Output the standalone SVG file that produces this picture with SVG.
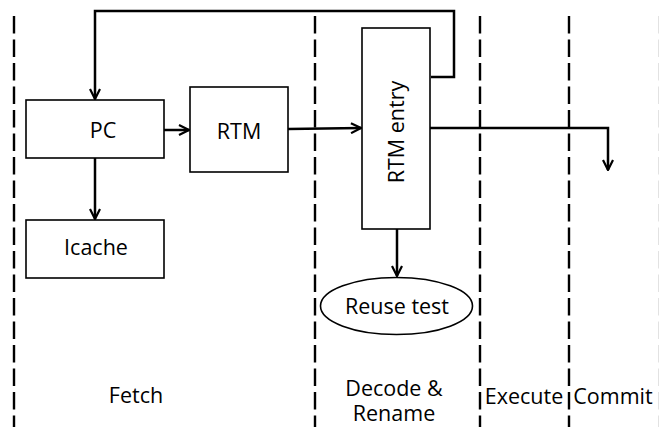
<svg xmlns="http://www.w3.org/2000/svg" width="659" height="427" viewBox="0 0 659 427">
<defs>
<marker id="arr" viewBox="0 0 12 12" refX="11" refY="6" markerWidth="12" markerHeight="12" markerUnits="userSpaceOnUse" orient="auto">
<path d="M1,1 L11,6 L1,11" fill="none" stroke="#000" stroke-width="2.2"/>
</marker>
</defs>
<style>
.box{fill:#fff;stroke:#000;stroke-width:1.6}
.conn{fill:none;stroke:#000;stroke-width:2.5}
.dash{fill:none;stroke:#000;stroke-width:2.4;stroke-dasharray:17.5 6}
text{font-family:"Open Sans","Noto Sans","Liberation Sans",sans-serif;font-size:21.5px;fill:#000}
</style>
<rect width="659" height="427" fill="#fff"/>
<g id="stage-lines">
<line class="dash" x1="14" y1="16" x2="14" y2="427"/>
<line class="dash" x1="315" y1="16" x2="315" y2="427"/>
<line class="dash" x1="480" y1="16" x2="480" y2="427"/>
<line class="dash" x1="569" y1="16" x2="569" y2="427"/>
<line x1="658.5" y1="16" x2="658.5" y2="427" stroke="#e2e2e2" stroke-width="1" stroke-dasharray="17.5 6"/>
</g>
<g id="connectors">
<polyline class="conn" points="431,77 454,77 454,11 95,11 95,99" marker-end="url(#arr)"/>
<line class="conn" x1="164" y1="130" x2="189" y2="130" marker-end="url(#arr)"/>
<line class="conn" x1="288" y1="129" x2="361" y2="128" marker-end="url(#arr)"/>
<line class="conn" x1="95" y1="158" x2="95" y2="219" marker-end="url(#arr)"/>
<line class="conn" x1="397" y1="229" x2="397" y2="276" marker-end="url(#arr)"/>
<polyline class="conn" points="430,128 608,128 608,170" marker-end="url(#arr)"/>
</g>
<g id="pc">
<rect class="box" x="26" y="100" width="138" height="58"/>
<text x="103" y="138" text-anchor="middle">PC</text>
</g>
<g id="rtm">
<rect class="box" x="190" y="87" width="98" height="85"/>
<text x="239" y="139" text-anchor="middle">RTM</text>
</g>
<g id="icache">
<rect class="box" x="26" y="220" width="138" height="58"/>
<text x="96" y="255" text-anchor="middle">Icache</text>
</g>
<g id="rtm-entry">
<rect class="box" x="362" y="28" width="68" height="201"/>
<text transform="translate(404,132) rotate(-90)" text-anchor="middle">RTM entry</text>
</g>
<g id="reuse-test">
<ellipse class="box" cx="396.5" cy="306" rx="76" ry="28.5"/>
<text x="397" y="313.5" text-anchor="middle">Reuse test</text>
</g>
<g id="labels">
<text x="136" y="403" text-anchor="middle">Fetch</text>
<text x="394" y="396" text-anchor="middle">Decode &amp;</text>
<text x="394" y="421" text-anchor="middle">Rename</text>
<text x="524" y="404" text-anchor="middle">Execute</text>
<text x="613" y="404" text-anchor="middle">Commit</text>
</g>
</svg>
